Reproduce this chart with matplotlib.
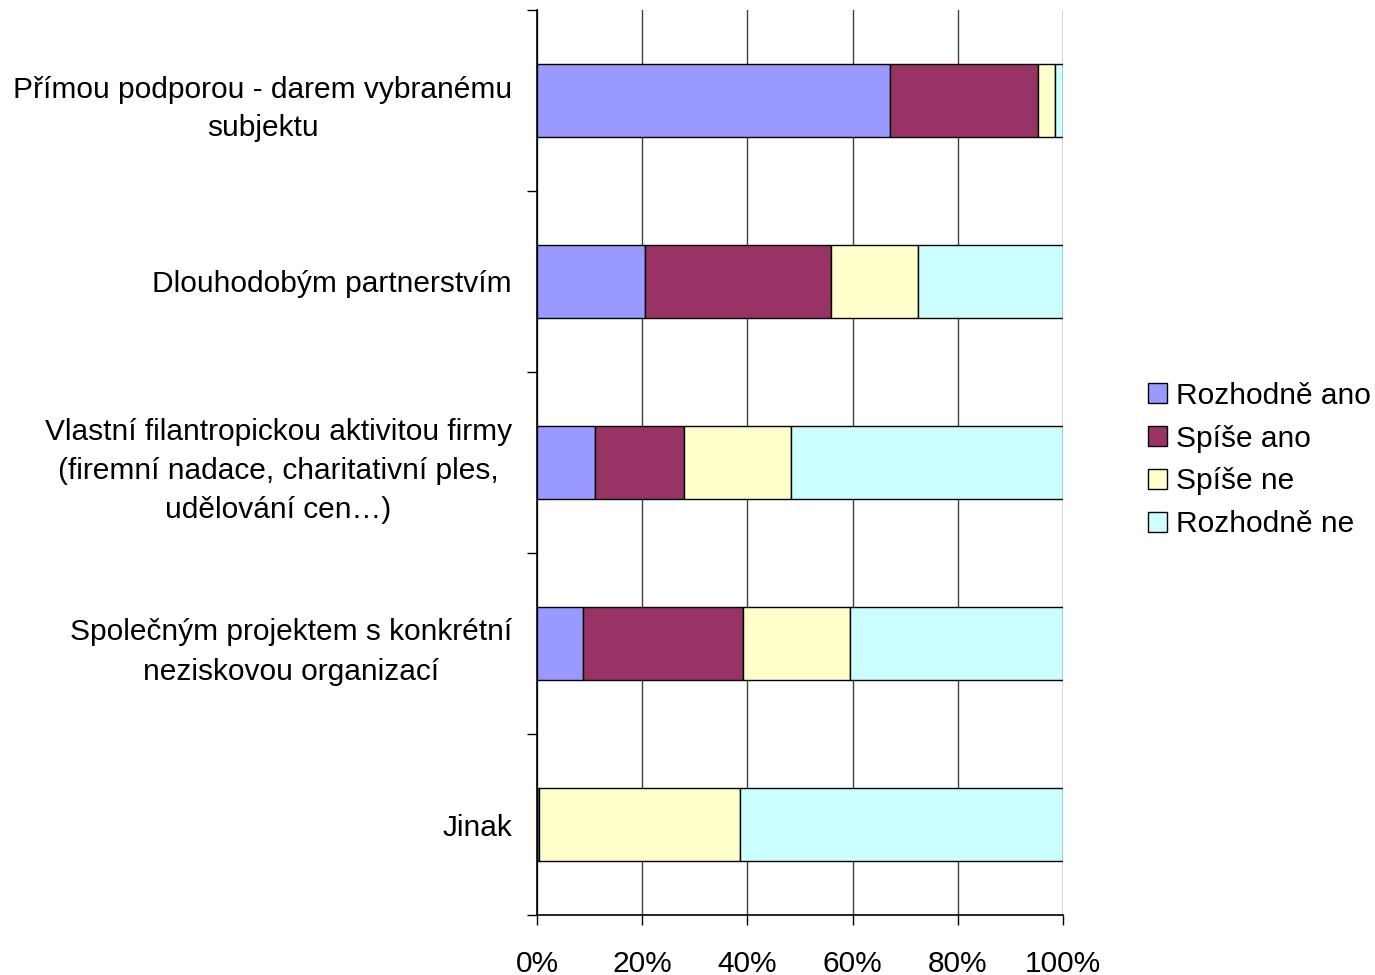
import numpy as np
import matplotlib
matplotlib.use("Agg")
import matplotlib.pyplot as plt
from matplotlib.ticker import FixedLocator, PercentFormatter

plt.rcParams['font.family'] = ['Liberation Sans', 'DejaVu Sans']

categories = [
    "Přímou podporou - darem vybranému\nsubjektu",
    "Dlouhodobým partnerstvím",
    "Vlastní filantropickou aktivitou firmy\n(firemní nadace, charitativní ples,\nudělování cen…)",
    "Společným projektem s konkrétní\nneziskovou organizací",
    "Jinak",
]
series_names = ["Rozhodně ano", "Spíše ano", "Spíše ne", "Rozhodně ne"]
rozhodne_ano = [67.1, 20.5, 11.0, 8.7, 0.4]
spise_ano = [28.1, 35.4, 16.9, 30.5, 0.0]
spise_ne = [3.3, 16.5, 20.4, 20.3, 38.2]
rozhodne_ne = [1.5, 27.6, 51.7, 40.5, 61.4]
colors = ["#9999FF", "#993366", "#FFFFCC", "#CCFFFF"]

FS = 21.5

fig = plt.figure(figsize=(13.75, 9.75), dpi=100)
ax = fig.add_axes([537 / 1375, 60 / 975, 526 / 1375, 905 / 975])

y = np.arange(len(categories))
left = np.zeros(len(categories))
handles = []
for name, vals, col in zip(series_names,
                           [rozhodne_ano, spise_ano, spise_ne, rozhodne_ne], colors):
    h = ax.barh(y, vals, left=left, height=0.4, color=col,
                edgecolor="black", linewidth=1.0, label=name, zorder=3)
    handles.append(h)
    left += np.array(vals)

ax.set_xlim(0, 100)
ax.set_ylim(len(categories) - 0.5, -0.5)
ax.xaxis.set_major_locator(FixedLocator([0, 20, 40, 60, 80, 100]))
ax.xaxis.set_major_formatter(PercentFormatter(decimals=0))
ax.grid(axis="x", color="#404040", linewidth=1.0, zorder=0)

ax.yaxis.set_major_locator(FixedLocator(np.arange(-0.5, len(categories), 1.0)))
ax.yaxis.set_minor_locator(FixedLocator(y))
ax.set_yticklabels([], minor=False)
ax.set_yticklabels(categories, minor=True, ha="right", multialignment="center",
                   fontsize=FS, linespacing=1.5)
ax.tick_params(axis="y", which="major", length=7, width=1, direction="out")
ax.tick_params(axis="y", which="minor", length=0, pad=18)
ax.tick_params(axis="x", length=7, width=1, direction="out", pad=18, labelsize=FS)

ax.spines["top"].set_visible(False)
ax.spines["right"].set_visible(False)
for s in ["left", "bottom"]:
    ax.spines[s].set_linewidth(1.2)

fig.legend(handles=handles, loc="center left", bbox_to_anchor=(1148 / 1375, 515 / 975),
           frameon=False, fontsize=FS, handlelength=0.65, handleheight=0.65,
           handletextpad=0.3, labelspacing=0.5, borderaxespad=0, borderpad=0)

fig.savefig("out.png", dpi=100)
